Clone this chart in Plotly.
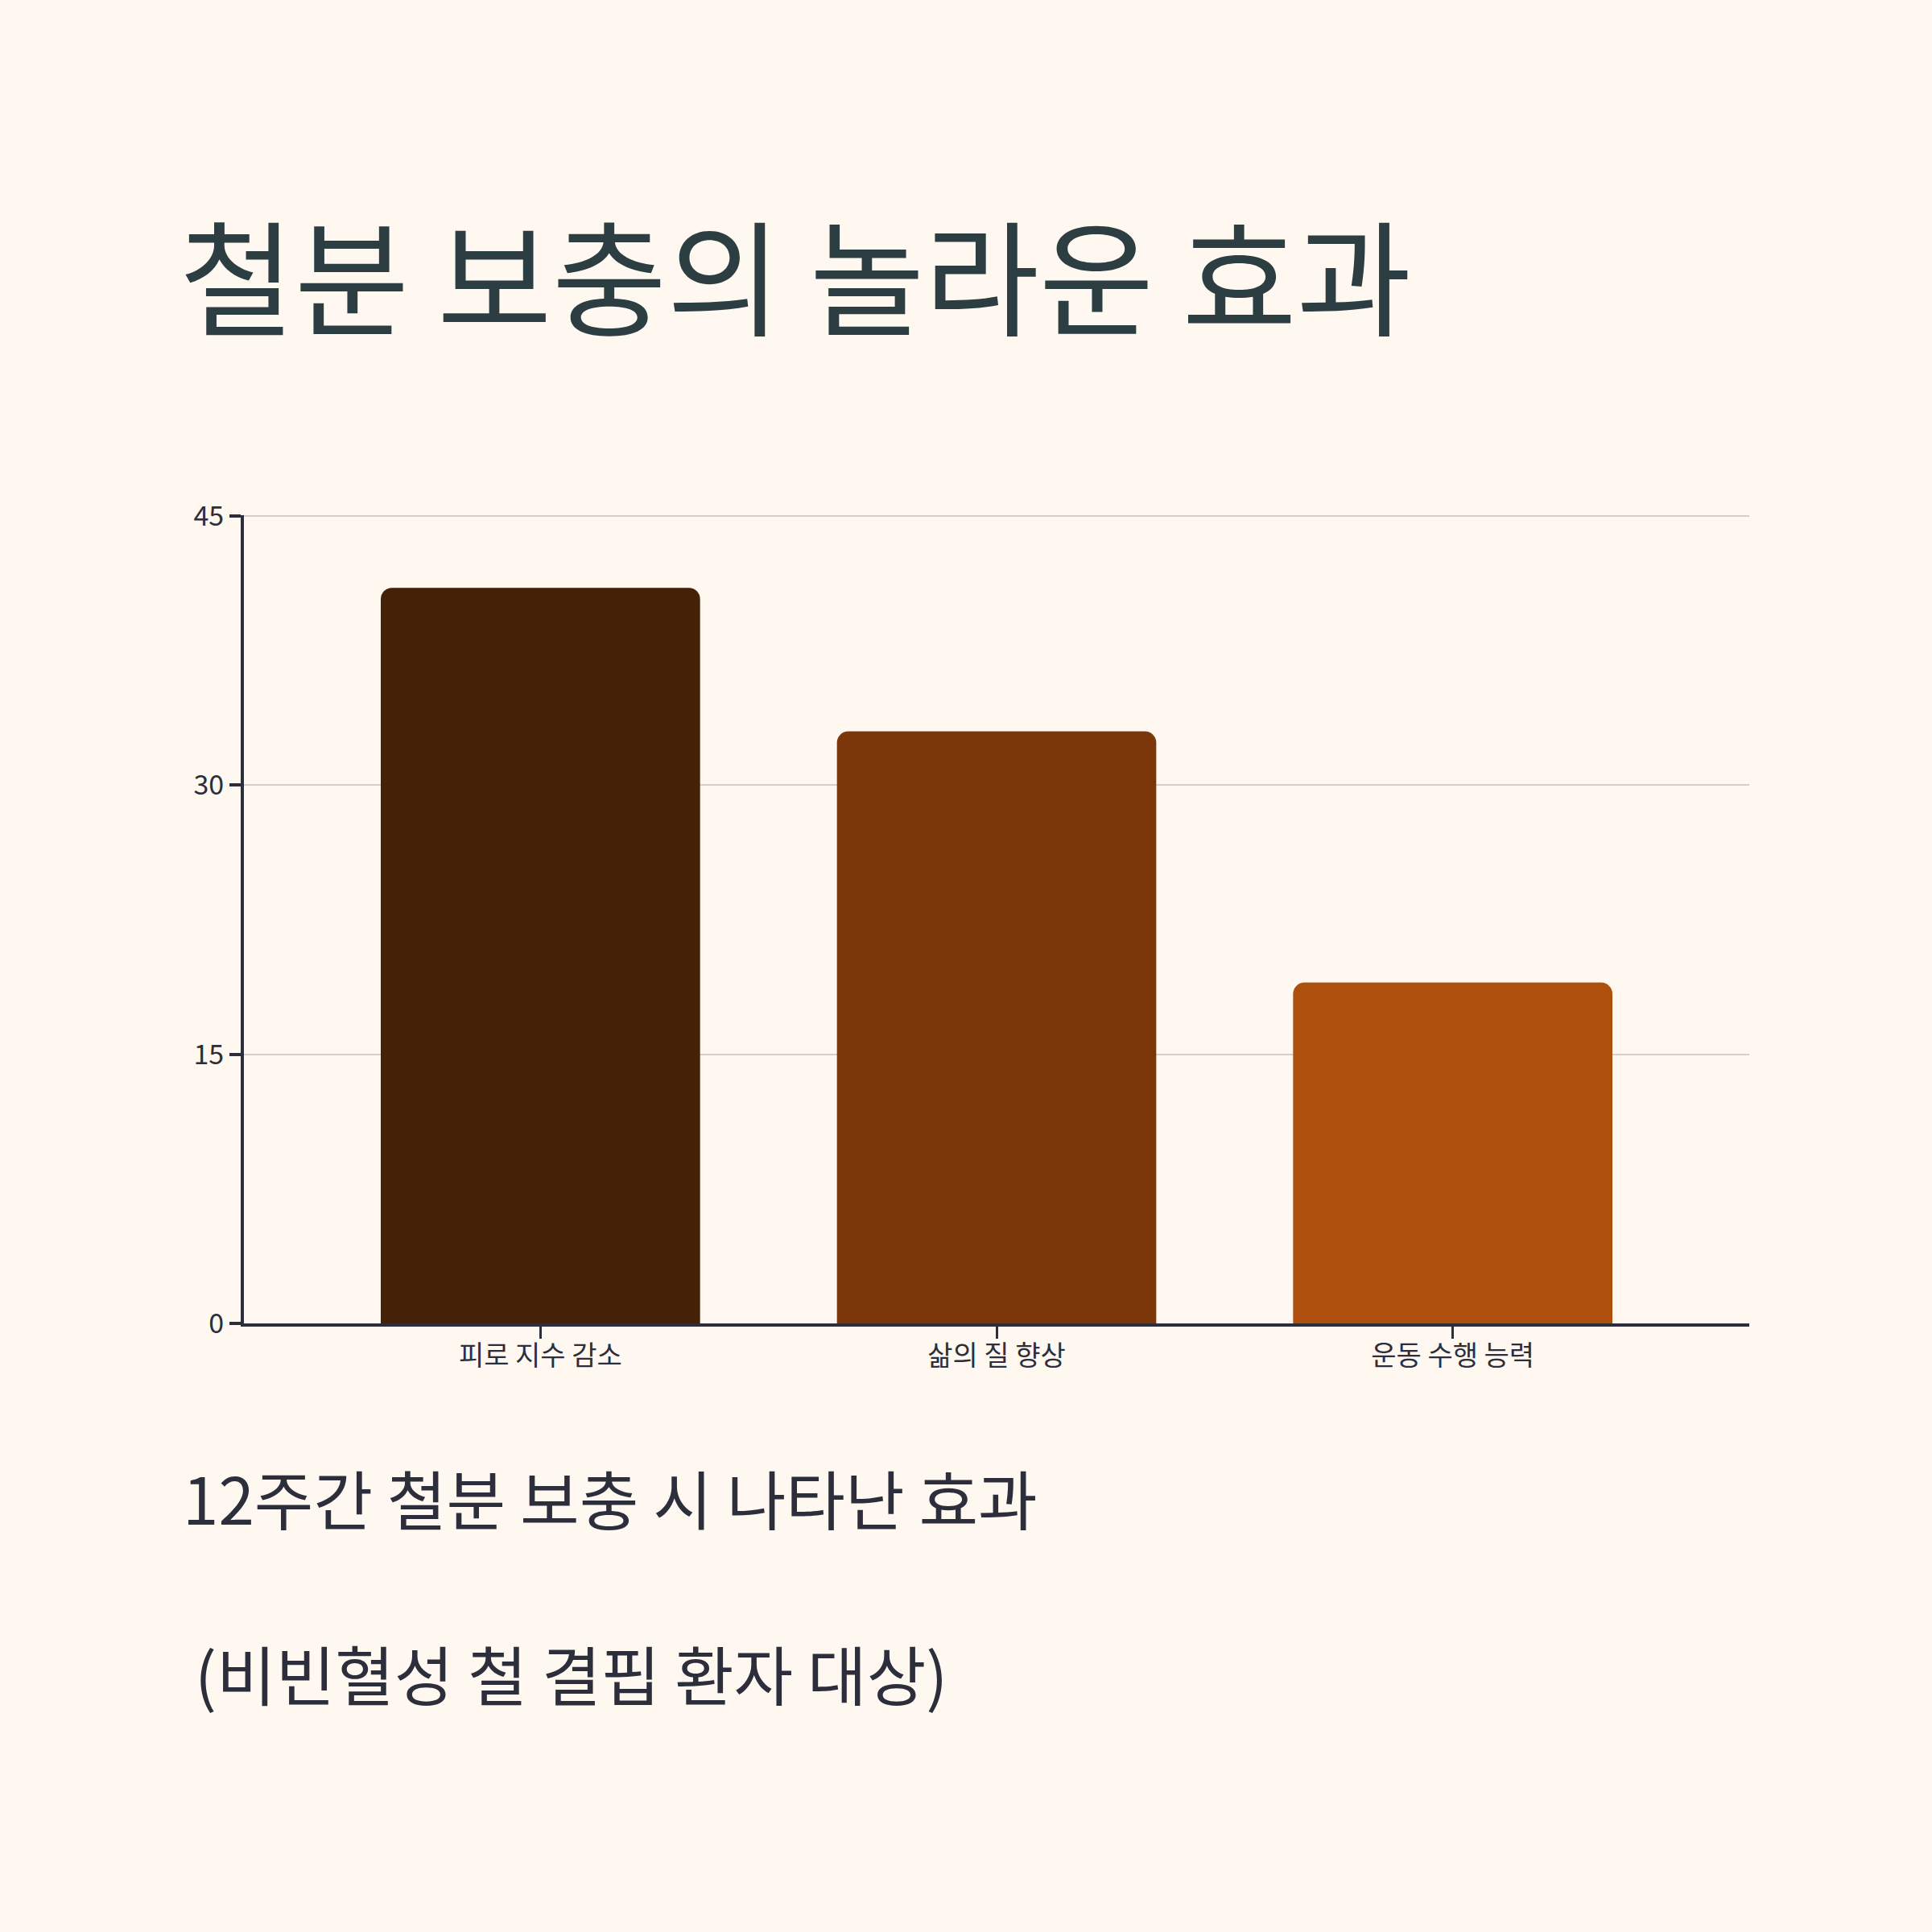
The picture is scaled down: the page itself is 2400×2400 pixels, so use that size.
import plotly.graph_objects as go

categories = ["피로 지수 감소", "삶의 질 향상", "운동 수행 능력"]
values = [41, 33, 19]
bar_colors = ["#452107", "#7B3709", "#AD4F0D"]
y_ticks = [0, 15, 30, 45]

title_text = "철분 보충의 놀라운 효과"
subtitle_1 = "12주간 철분 보충 시 나타난 효과"
subtitle_2 = "(비빈혈성 철 결핍 환자 대상)"

BG = "#FFF8F1"
AXIS = "#2C2E3B"
FONT = "Noto Sans CJK KR"

fig = go.Figure(
    go.Bar(
        x=categories,
        y=values,
        marker=dict(color=bar_colors, cornerradius=14, line=dict(width=0)),
        hoverinfo="skip",
    )
)

fig.update_layout(
    width=2400,
    height=2400,
    paper_bgcolor=BG,
    plot_bgcolor=BG,
    margin=dict(l=303, r=227, t=640, b=756),
    bargap=0.3,
    showlegend=False,
    font=dict(family=FONT, color=AXIS, size=34),
    title=dict(
        text=title_text,
        font=dict(family=FONT, size=155, color="#2D3E42"),
        xref="container", yref="container",
        x=0.093, y=0.854, xanchor="left", yanchor="middle",
    ),
    annotations=[
        dict(text=subtitle_1, xref="paper", yref="paper", x=-0.0415, y=-0.214,
             xanchor="left", yanchor="middle", showarrow=False,
             font=dict(family=FONT, size=80, color=AXIS)),
        dict(text=subtitle_2, xref="paper", yref="paper", x=-0.0335, y=-0.431,
             xanchor="left", yanchor="middle", showarrow=False,
             font=dict(family=FONT, size=80, color=AXIS)),
    ],
)

fig.update_xaxes(
    range=[-0.65, 2.65],
    showline=True, linecolor=AXIS, linewidth=4,
    ticks="outside", ticklen=15, tickwidth=3, tickcolor=AXIS,
    ticklabelstandoff=-8,
    tickfont=dict(family=FONT, size=34, color=AXIS),
    showgrid=False, zeroline=False,
)
fig.update_yaxes(
    range=[0, 45.05],
    tickvals=y_ticks,
    showline=True, linecolor=AXIS, linewidth=4,
    ticks="outside", ticklen=14, tickwidth=4, tickcolor=AXIS,
    tickfont=dict(family=FONT, size=34, color=AXIS),
    showgrid=True, gridcolor="#D4CFC7", gridwidth=2,
    zeroline=False,
)

fig.write_html(
    "out.html",
    config={"displayModeBar": False},
    post_script="document.body.style.margin='0';",
)
